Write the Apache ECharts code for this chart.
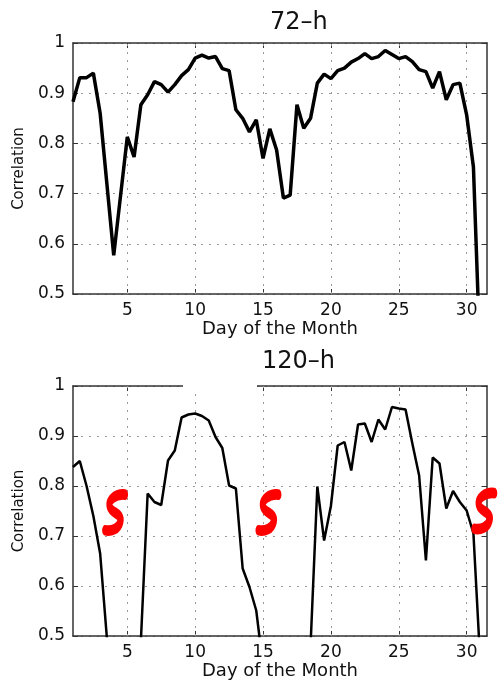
<!DOCTYPE html>
<html>
<head>
<meta charset="utf-8">
<title>Correlation 72-h / 120-h</title>
<script src="https://cdn.jsdelivr.net/npm/echarts@6.0.0/dist/echarts.min.js"></script>
<style>
    html, body { margin: 0; padding: 0; background: #fff; }
    #mains { width: 498px; height: 681px; }
</style>
</head>
<body>
<div id="mains"></div>
<script>
    // 72-h correlation, half-day steps
    var days72 = [1, 1.5, 2, 2.5, 3, 4, 5, 5.5, 6, 6.5, 7, 7.5, 8, 8.5, 9, 9.5, 10, 10.5,
        11, 11.5, 12, 12.5, 13, 13.5, 14, 14.5, 15, 15.5, 16, 16.5, 17, 17.5, 18, 18.5,
        19, 19.5, 20, 20.5, 21, 21.5, 22, 22.5, 23, 23.5, 24, 24.5, 25, 25.5, 26, 26.5,
        27, 27.5, 28, 28.5, 29, 29.5, 30, 30.5, 31];
    var corr72 = [0.883, 0.931, 0.931, 0.940, 0.860, 0.577, 0.813, 0.773, 0.877, 0.897, 0.923, 0.917, 0.902, 0.917, 0.935, 0.947, 0.970, 0.976,
        0.970, 0.973, 0.949, 0.945, 0.867, 0.850, 0.823, 0.847, 0.770, 0.829, 0.787, 0.691, 0.697, 0.877, 0.830, 0.850,
        0.920, 0.938, 0.929, 0.945, 0.950, 0.962, 0.969, 0.979, 0.969, 0.973, 0.985, 0.977, 0.969, 0.973, 0.963, 0.947,
        0.943, 0.910, 0.943, 0.887, 0.917, 0.920, 0.857, 0.753, 0.37];

    // 120-h correlation (values under 0.5 fall off the axis)
    var days120 = [1, 1.5, 2, 2.5, 3, 3.5, 4, 5.5, 6, 6.5, 7, 7.5, 8, 8.5, 9, 9.5, 10, 10.5,
        11, 11.5, 12, 12.5, 13, 13.5, 14, 14.5, 15, 15.5, 18, 18.5,
        19, 19.5, 20, 20.5, 21, 21.5, 22, 22.5, 23, 23.5, 24, 24.5, 25, 25.5, 26, 26.5,
        27, 27.5, 28, 28.5, 29, 29.5, 30, 30.5, 31];
    var corr120 = [0.838, 0.850, 0.800, 0.740, 0.665, 0.495, 0.30, 0.30, 0.49, 0.785, 0.768, 0.762, 0.851, 0.871, 0.937, 0.943, 0.945, 0.940,
        0.931, 0.898, 0.876, 0.801, 0.795, 0.635, 0.598, 0.551, 0.44, 0.30, 0.30, 0.48,
        0.799, 0.691, 0.760, 0.881, 0.888, 0.831, 0.923, 0.925, 0.888, 0.933, 0.913, 0.958, 0.955, 0.953, 0.885, 0.821,
        0.651, 0.857, 0.845, 0.755, 0.790, 0.768, 0.751, 0.705, 0.45];

    var xTicks = [5, 10, 15, 20, 25, 30];
    var breakDays = [4.1, 15.4, 31.3];
    var breakCorr = [0.747, 0.747, 0.75];

    var FONT = 'DejaVu Sans';
    var sPath = 'path://M22,0 C12,-1 3,5 5,12 C7,19 19,19 17,27 C15,35 7,37 0,36';

    function pairs(xs, ys) {
        var out = [];
        for (var i = 0; i < xs.length; i++) {
            out.push([xs[i], ys[i]]);
        }
        return out;
    }

    function xAxes(grid) {
        return [{
            gridIndex: grid, type: 'value', min: 1, max: 31.5, position: 'bottom',
            name: 'Day of the Month', nameLocation: 'middle', nameGap: 22,
            nameTextStyle: {fontFamily: FONT, fontSize: 18, color: '#111'},
            axisLine: {onZero: false, lineStyle: {color: '#333', width: 1.5}},
            axisTick: {inside: true, length: 5, customValues: xTicks, lineStyle: {color: '#333'}},
            axisLabel: {customValues: xTicks, margin: 8, fontFamily: FONT, fontSize: 17, color: '#111'},
            splitLine: {show: false}
        }, {
            gridIndex: grid, type: 'value', min: 1, max: 31.5, position: 'top',
            axisLine: {onZero: false, lineStyle: {color: '#333', width: 1.5}},
            axisTick: {inside: true, length: 5, customValues: xTicks, lineStyle: {color: '#333'}},
            axisLabel: {show: false},
            splitLine: {show: false}
        }];
    }

    function yAxes(grid) {
        return [{
            gridIndex: grid, type: 'value', min: 0.5, max: 1, interval: 0.1, position: 'left',
            name: 'Correlation', nameLocation: 'middle', nameGap: 42,
            nameTextStyle: {fontFamily: FONT, fontSize: 15, color: '#111'},
            axisLine: {show: true, onZero: false, lineStyle: {color: '#333', width: 1.5}},
            axisTick: {show: true, inside: true, length: 5, lineStyle: {color: '#333'}},
            axisLabel: {margin: 8, fontFamily: FONT, fontSize: 17, color: '#111'},
            splitLine: {show: true, lineStyle: {type: [2, 6], color: '#999', width: 1}}
        }, {
            gridIndex: grid, type: 'value', min: 0.5, max: 1, interval: 0.1, position: 'right',
            axisLine: {show: true, onZero: false, lineStyle: {color: '#333', width: 1.5}},
            axisTick: {show: true, inside: true, length: 5, lineStyle: {color: '#333'}},
            axisLabel: {show: false},
            splitLine: {show: false}
        }];
    }

    function gridLines(xi, yi) {
        // vertical dotted grid at the day ticks, kept under the data line
        return {
            type: 'line', xAxisIndex: xi, yAxisIndex: yi, data: [], z: 1, silent: true,
            markLine: {
                z: 1, silent: true, symbol: 'none', label: {show: false},
                lineStyle: {type: [2, 6], color: '#999', width: 1},
                data: xTicks.map(function (v) { return {xAxis: v}; })
            }
        };
    }

    var myChart = echarts.init(document.getElementById('mains'));
    myChart.setOption({
        animation: false,
        backgroundColor: '#fff',
        title: [
            {text: '72–h', left: 265, top: 6, textStyle: {fontFamily: FONT, fontSize: 24, fontWeight: 'normal', color: '#111'}},
            {text: '120–h', left: 257, top: 345, textStyle: {fontFamily: FONT, fontSize: 24, fontWeight: 'normal', color: '#111'}}
        ],
        grid: [
            {left: 73, right: 11, top: 43, height: 251},
            {left: 73, right: 11, top: 386, height: 250}
        ],
        xAxis: xAxes(0).concat(xAxes(1)),
        yAxis: yAxes(0).concat(yAxes(1)),
        series: [
            gridLines(0, 0),
            gridLines(2, 2),
            {
                name: '72-h', type: 'line', xAxisIndex: 0, yAxisIndex: 0, z: 3,
                symbol: 'none', clip: true,
                lineStyle: {color: '#000', width: 3.5},
                data: pairs(days72, corr72)
            },
            {
                name: '120-h', type: 'line', xAxisIndex: 2, yAxisIndex: 2, z: 3,
                symbol: 'none', clip: true,
                lineStyle: {color: '#000', width: 2.5},
                data: pairs(days120, corr120),
                markPoint: {
                    symbol: sPath,
                    symbolSize: [20, 36],
                    label: {show: false},
                    itemStyle: {color: 'rgba(0,0,0,0)', borderColor: '#ff0000', borderWidth: 8, borderCap: 'round', borderJoin: 'round'},
                    data: breakDays.map(function (d, i) { return {coord: [d, breakCorr[i]]}; })
                }
            }
        ],
        graphic: [
            // erased patch on the top frame of the lower panel
            {type: 'rect', z: 100, shape: {x: 183, y: 380, width: 74, height: 11}, style: {fill: '#fff'}}
        ]
    });
</script>
</body>
</html>
